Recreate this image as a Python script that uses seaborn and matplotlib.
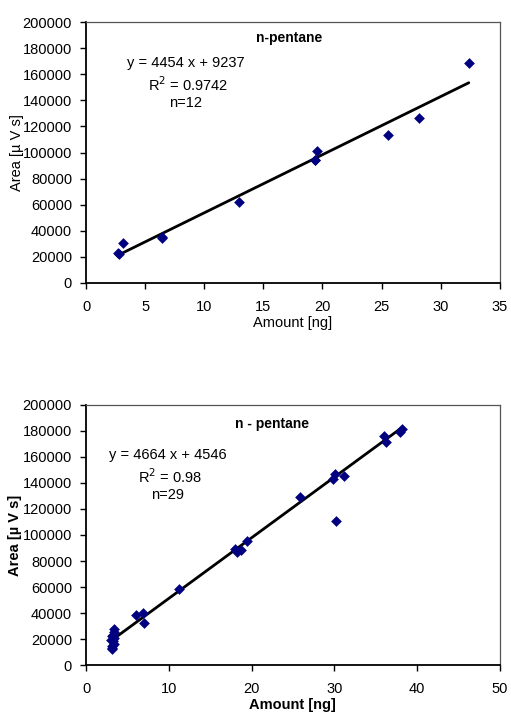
import numpy as np
import pandas as pd
import matplotlib
matplotlib.use("Agg")
import matplotlib.pyplot as plt
import seaborn as sns

# ---- data: top panel ----
top_amount = [2.73, 3.13, 6.42, 12.9, 19.36, 19.58, 25.58, 28.15, 32.38, 2.80, 6.45, 19.40]
top_area = [23000, 30700, 35000, 61900, 93900, 101000, 113300, 126300, 168500, 22500, 34500, 94500]
top_slope, top_icpt = 4454, 9237

# ---- data: bottom panel ----
bot_amount = [30.19, 35.99, 36.23, 37.92, 38.24, 30.03, 29.90, 31.16, 25.85, 19.44,
              17.95, 18.24, 18.68, 11.19, 6.04, 6.92, 7.00,
              3.38, 3.42, 3.30, 3.18, 3.35, 3.02, 3.25, 3.34, 3.20, 3.10, 3.15, 3.28]
bot_area = [110500, 176100, 171300, 179000, 181300, 146700, 143300, 145600, 129000, 95100,
            89500, 86700, 88500, 58500, 38500, 40000, 32300,
            27700, 25500, 23300, 22000, 21000, 19000, 18500, 16400, 15000, 13100, 12500, 20000]
bot_slope, bot_icpt = 4664, 4546

sns.set_theme(style="white")
plt.rcParams['font.family'] = ['Liberation Sans', 'DejaVu Sans']
plt.rcParams['text.color'] = 'black'
plt.rcParams['axes.labelcolor'] = 'black'
plt.rcParams['xtick.color'] = 'black'
plt.rcParams['ytick.color'] = 'black'

fig = plt.figure(figsize=(5.11, 7.15), dpi=100)
ax1 = fig.add_axes([0.1683, 0.6042, 0.8097, 0.3650])
ax2 = fig.add_axes([0.1683, 0.0699, 0.8097, 0.3637])

FS = 10.5
MK = dict(marker='D', color='#000080', s=30, edgecolor='#000080', linewidth=0)

def panel(ax, xs, ys, slope, icpt, xmax, xstep, title, eq, r2, n, bold, tx, ty, ex, ey, ylx):
    df = pd.DataFrame({'Amount': xs, 'Area': ys})
    xf = np.array([min(xs), max(xs)])
    fit = pd.DataFrame({'x': xf, 'y': slope * xf + icpt})
    sns.lineplot(data=fit, x='x', y='y', ax=ax, color='black', linewidth=2, zorder=2)
    sns.scatterplot(data=df, x='Amount', y='Area', ax=ax, zorder=3, **MK)
    ax.set_xlim(0, xmax)
    ax.set_ylim(0, 200000)
    ax.set_xticks(np.arange(0, xmax + 0.1, xstep))
    ax.set_yticks(np.arange(0, 200001, 20000))
    ax.set_xticklabels([str(int(v)) for v in np.arange(0, xmax + 0.1, xstep)], fontsize=FS)
    ax.set_yticklabels([str(int(v)) for v in np.arange(0, 200001, 20000)], fontsize=FS)
    ax.tick_params(axis='both', direction='out', length=4, width=1, color='black',
                   left=True, bottom=True)
    ax.tick_params(axis='x', pad=8)
    ax.tick_params(axis='y', pad=6)
    for s in ['left', 'bottom']:
        ax.spines[s].set_color('black')
        ax.spines[s].set_linewidth(1.3)
    for s in ['top', 'right']:
        ax.spines[s].set_color('#555555')
        ax.spines[s].set_linewidth(0.9)
    w = 'bold' if bold else 'normal'
    ax.set_xlabel('Amount [ng]', fontsize=FS, fontweight=w, labelpad=2)
    ax.set_ylabel('Area [µ V s]', fontsize=FS, fontweight=w)
    ax.yaxis.set_label_coords(ylx, 0.5)
    ax.text(tx, ty, title, transform=ax.transAxes, ha='center', va='center',
            fontsize=FS - 0.5, fontweight='bold')
    ax.text(ex, ey, eq, transform=ax.transAxes, ha='center', va='center', fontsize=FS)
    ax.text(ex + 0.005, ey - 0.083, r2, transform=ax.transAxes, ha='center', va='center', fontsize=FS)
    ax.text(ex, ey - 0.155, n, transform=ax.transAxes, ha='center', va='center', fontsize=FS)

panel(ax1, top_amount, top_area, top_slope, top_icpt, 35, 5, 'n-pentane',
      'y = 4454 x + 9237', r'R$^2$ = 0.9742', 'n=12', False,
      0.491, 0.939, 0.241, 0.843, -0.15)
panel(ax2, bot_amount, bot_area, bot_slope, bot_icpt, 50, 10, 'n - pentane',
      'y = 4664 x + 4546', r'R$^2$ = 0.98', 'n=29', True,
      0.450, 0.927, 0.198, 0.807, -0.155)

fig.savefig('out.png', dpi=100)
